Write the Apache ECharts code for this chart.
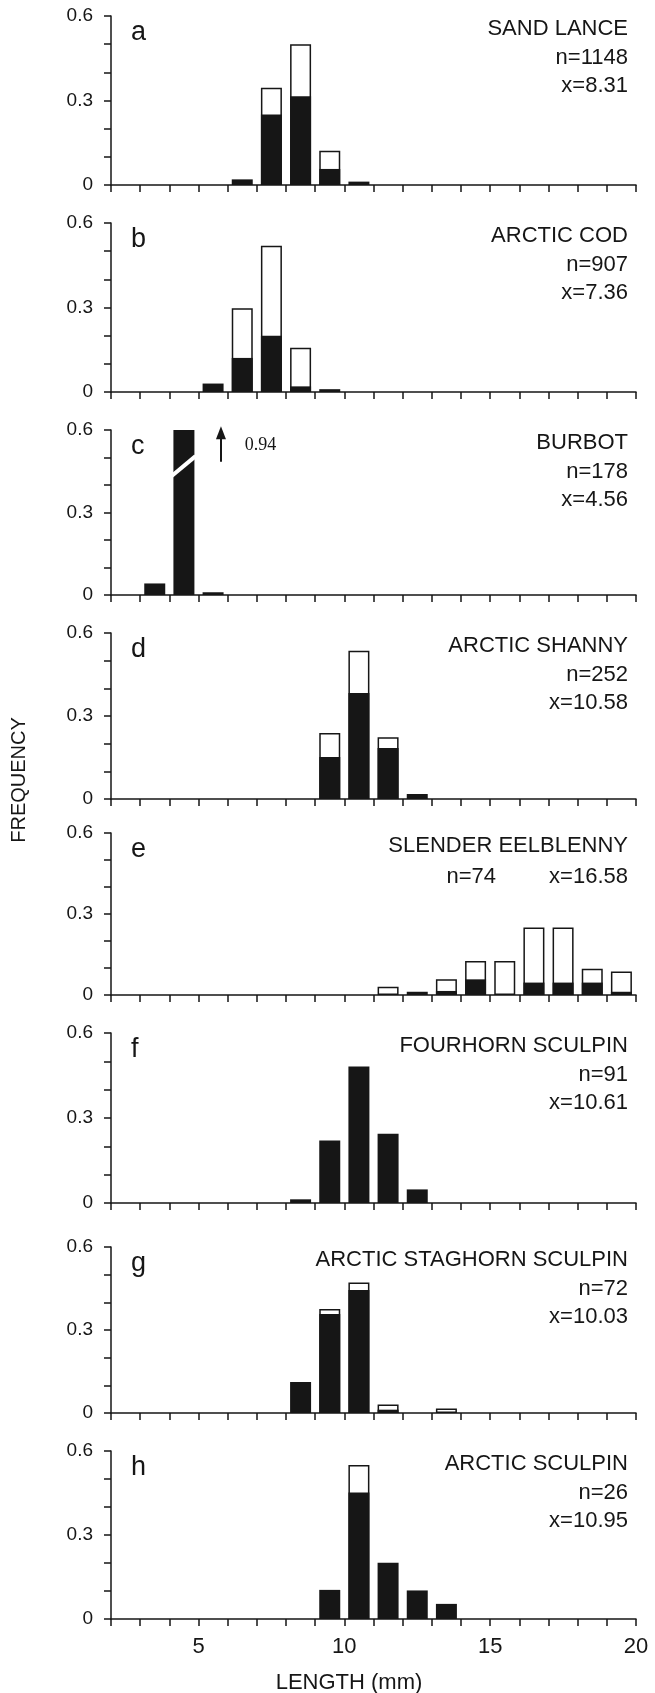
<!DOCTYPE html>
<html>
<head>
<meta charset="utf-8">
<script src="https://cdn.jsdelivr.net/npm/echarts@6/dist/echarts.min.js"></script>
<style>
  html, body { margin: 0; padding: 0; background: #fff; }
  #chart { width: 655px; height: 1693px; }
</style>
</head>
<body>
<div id="chart"></div>
<script>
// length classes (mm): each bar covers [start, start + 1)
const binStarts = [2, 3, 4, 5, 6, 7, 8, 9, 10, 11, 12, 13, 14, 15, 16, 17, 18, 19]

const panelLetters = ['a', 'b', 'c', 'd', 'e', 'f', 'g', 'h']
const speciesNames = ['SAND LANCE', 'ARCTIC COD', 'BURBOT', 'ARCTIC SHANNY',
  'SLENDER EELBLENNY', 'FOURHORN SCULPIN', 'ARCTIC STAGHORN SCULPIN', 'ARCTIC SCULPIN']
const sampleSizes = [1148, 907, 178, 252, 74, 91, 72, 26]
const meanLengths = ['8.31', '7.36', '4.56', '10.58', '16.58', '10.61', '10.03', '10.95']

// black = solid part of the bar, white = open part stacked above it
//                        2  3     4     5     6      7      8      9      10     11     12     13     14     15     16     17     18     19
const sandLanceBlack   = [0, 0,    0,    0,    0.02,  0.25,  0.315, 0.057, 0.012, 0,     0,     0,     0,     0,     0,     0,     0,     0]
const sandLanceWhite   = [0, 0,    0,    0,    0,     0.095, 0.185, 0.065, 0,     0,     0,     0,     0,     0,     0,     0,     0,     0]
const arcticCodBlack   = [0, 0,    0,    0.03, 0.121, 0.2,   0.02,  0.01,  0,     0,     0,     0,     0,     0,     0,     0,     0,     0]
const arcticCodWhite   = [0, 0,    0,    0,    0.176, 0.319, 0.137, 0,     0,     0,     0,     0,     0,     0,     0,     0,     0,     0]
const burbotBlack      = [0, 0.042, 0.94, 0.01, 0,    0,     0,     0,     0,     0,     0,     0,     0,     0,     0,     0,     0,     0]
const burbotWhite      = [0, 0,    0,    0,    0,     0,     0,     0,     0,     0,     0,     0,     0,     0,     0,     0,     0,     0]
const shannyBlack      = [0, 0,    0,    0,    0,     0,     0,     0.152, 0.383, 0.184, 0.018, 0,     0,     0,     0,     0,     0,     0]
const shannyWhite      = [0, 0,    0,    0,    0,     0,     0,     0.087, 0.153, 0.039, 0,     0,     0,     0,     0,     0,     0,     0]
const eelblennyBlack   = [0, 0,    0,    0,    0,     0,     0,     0,     0,     0,     0.012, 0.015, 0.058, 0,     0.046, 0.046, 0.046, 0.012]
const eelblennyWhite   = [0, 0,    0,    0,    0,     0,     0,     0,     0,     0.031, 0,     0.043, 0.068, 0.126, 0.204, 0.204, 0.051, 0.075]
const fourhornBlack    = [0, 0,    0,    0,    0,     0,     0.013, 0.221, 0.482, 0.244, 0.048, 0,     0,     0,     0,     0,     0,     0]
const fourhornWhite    = [0, 0,    0,    0,    0,     0,     0,     0,     0,     0,     0,     0,     0,     0,     0,     0,     0,     0]
const staghornBlack    = [0, 0,    0,    0,    0,     0,     0.112, 0.358, 0.445, 0.012, 0,     0,     0,     0,     0,     0,     0,     0]
const staghornWhite    = [0, 0,    0,    0,    0,     0,     0,     0.018, 0.027, 0.019, 0,     0.016, 0,     0,     0,     0,     0,     0]
const sculpinBlack     = [0, 0,    0,    0,    0,     0,     0,     0.104, 0.452, 0.201, 0.102, 0.054, 0,     0,     0,     0,     0,     0]
const sculpinWhite     = [0, 0,    0,    0,    0,     0,     0,     0,     0.098, 0,     0,     0,     0,     0,     0,     0,     0,     0]

const blackSets = [sandLanceBlack, arcticCodBlack, burbotBlack, shannyBlack, eelblennyBlack, fourhornBlack, staghornBlack, sculpinBlack]
const whiteSets = [sandLanceWhite, arcticCodWhite, burbotWhite, shannyWhite, eelblennyWhite, fourhornWhite, staghornWhite, sculpinWhite]

// burbot: off-scale bar (0.94) gets a break mark and an arrow note
const burbotBreak = [[4.05, 0.43], [4.9, 0.505]]
const burbotArrow = [[5.77, 0.485], [5.77, 0.59]]
const burbotNote = [6.55, 0.545, '0.94']

// layout (pixels)
const panelTop = [16, 223, 430, 633, 833, 1033, 1247, 1451]
const panelBottom = [185, 392, 595, 799, 995, 1203, 1413, 1619]

const FONT = '"Liberation Sans", Arial, Helvetica, sans-serif'
const INK = '#161616'

const chart = echarts.init(document.getElementById('chart'), null, { renderer: 'canvas' })

const grids = panelTop.map((t, i) => ({
  left: 111, right: 19, top: t, height: panelBottom[i] - t, outerBoundsMode: 'none'
}))

const axisLine = { show: true, onZero: false, lineStyle: { color: INK, width: 1.5 } }
const axisTick = { show: true, inside: false, length: 7, lineStyle: { color: INK, width: 1.5 } }

const xAxes = panelTop.map((t, i) => ({
  type: 'value', gridIndex: i, min: 2, max: 20, interval: 1,
  axisLine, axisTick,
  splitLine: { show: false },
  axisLabel: {
    show: i === 7, margin: 17, color: INK, fontFamily: FONT, fontSize: 22,
    formatter: v => (v % 5 === 0 ? String(v) : '')
  }
}))

const yAxes = panelTop.map((t, i) => ({
  type: 'value', gridIndex: i, min: 0, max: 0.6, interval: 0.1,
  axisLine, axisTick,
  splitLine: { show: false },
  axisLabel: {
    margin: 18, color: INK, fontFamily: FONT, fontSize: 19,
    formatter: v => {
      const r = Math.round(v * 10) / 10
      if (r === 0) return '0'
      if (r === 0.3 || r === 0.6) return r.toFixed(1)
      return ''
    }
  }
}))

const series = []
blackSets.forEach((black, i) => {
  const white = whiteSets[i]
  const totals = []
  const solids = []
  binStarts.forEach((b, k) => {
    if (white[k] > 0) totals.push([b + 0.5, black[k] + white[k]])
    if (black[k] > 0) solids.push([b + 0.5, black[k]])
  })
  series.push({
    type: 'bar', xAxisIndex: i, yAxisIndex: i, barWidth: 21, clip: true,
    data: totals,
    itemStyle: { color: '#fff', borderColor: INK, borderWidth: 1.5 },
    silent: true
  })
  series.push({
    type: 'bar', xAxisIndex: i, yAxisIndex: i, barWidth: 21, barGap: '-100%', clip: true,
    data: solids,
    itemStyle: { color: INK },
    silent: true
  })
})

// break mark + arrow on the burbot panel
series.push({
  type: 'line', xAxisIndex: 2, yAxisIndex: 2, data: [], silent: true,
  markLine: {
    silent: true, animation: false, z: 10,
    label: { show: false },
    data: [
      [{ coord: burbotBreak[0], symbol: 'none' }, { coord: burbotBreak[1], symbol: 'none', lineStyle: { color: '#fff', width: 4, type: 'solid' } }],
      [{ coord: burbotArrow[0], symbol: 'none' }, { coord: burbotArrow[1], symbol: 'triangle', symbolSize: [10, 13], lineStyle: { color: INK, width: 2, type: 'solid' } }]
    ],
    lineStyle: { type: 'solid' }
  },
  markPoint: {
    silent: true, animation: false,
    symbol: 'circle', symbolSize: 2,
    itemStyle: { color: 'rgba(255,255,255,0)' },
    data: [{ coord: [burbotNote[0], burbotNote[1]] }],
    label: {
      show: true, position: 'right', distance: 0, formatter: burbotNote[2],
      fontFamily: '"Liberation Serif", "Times New Roman", serif', fontSize: 18, color: INK
    }
  }
})

const graphics = []
panelTop.forEach((t, i) => {
  graphics.push({
    type: 'text', x: 131, y: t + 17,
    style: { text: panelLetters[i], font: '27px ' + FONT, fill: INK, textVerticalAlign: 'middle', verticalAlign: 'middle' }
  })
  graphics.push({
    type: 'text', x: 628, y: t + 13,
    style: { text: speciesNames[i], font: '22px ' + FONT, fill: INK, textAlign: 'right', align: 'right', textVerticalAlign: 'middle', verticalAlign: 'middle' }
  })
  if (i === 4) {
    graphics.push({
      type: 'text', x: 496, y: t + 44,
      style: { text: 'n=' + sampleSizes[i], font: '22px ' + FONT, fill: INK, textAlign: 'right', align: 'right', textVerticalAlign: 'middle', verticalAlign: 'middle' }
    })
    graphics.push({
      type: 'text', x: 628, y: t + 44,
      style: { text: 'x=' + meanLengths[i], font: '22px ' + FONT, fill: INK, textAlign: 'right', align: 'right', textVerticalAlign: 'middle', verticalAlign: 'middle' }
    })
  } else {
    graphics.push({
      type: 'text', x: 628, y: t + 42,
      style: { text: 'n=' + sampleSizes[i], font: '22px ' + FONT, fill: INK, textAlign: 'right', align: 'right', textVerticalAlign: 'middle', verticalAlign: 'middle' }
    })
    graphics.push({
      type: 'text', x: 628, y: t + 70,
      style: { text: 'x=' + meanLengths[i], font: '22px ' + FONT, fill: INK, textAlign: 'right', align: 'right', textVerticalAlign: 'middle', verticalAlign: 'middle' }
    })
  }
})
graphics.push({
  type: 'text', x: 19, y: 780, rotation: Math.PI / 2,
  style: { text: 'FREQUENCY', font: '20px ' + FONT, fill: INK, textAlign: 'center', align: 'center', textVerticalAlign: 'middle', verticalAlign: 'middle' }
})
graphics.push({
  type: 'text', x: 349, y: 1683,
  style: { text: 'LENGTH (mm)', font: '22px ' + FONT, fill: INK, textAlign: 'center', align: 'center', textVerticalAlign: 'middle', verticalAlign: 'middle' }
})

chart.setOption({
  backgroundColor: '#fff',
  animation: false,
  grid: grids,
  xAxis: xAxes,
  yAxis: yAxes,
  series,
  graphic: graphics
})
</script>
</body>
</html>
